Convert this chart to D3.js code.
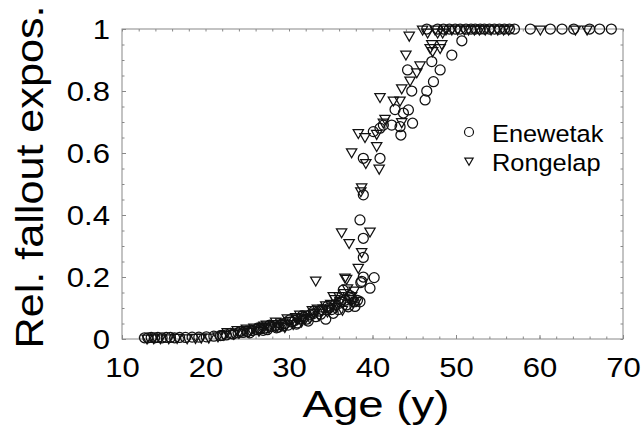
<!DOCTYPE html>
<html>
<head>
<meta charset="utf-8">
<script src="https://cdn.jsdelivr.net/npm/d3@7"></script>
<style>
  body { margin: 0; background: #fff; }
  text { font-family: "Liberation Sans", Arial, Helvetica, sans-serif; fill: #000; }
</style>
</head>
<body>
<div id="chart"></div>
<script>
// Enewetak points [age, relative exposure]
var enewetak = [
  [12.7,0.004],[13.1,0.004],[13.5,0.005],[13.9,0.004],[14.3,0.005],[14.8,0.004],[15.3,0.005],
  [15.8,0.005],[16.3,0.004],[16.9,0.005],[17.6,0.005],[18.4,0.006],[19.2,0.006],[20.1,0.007],
  [21.0,0.009],[21.8,0.011],[22.0,0.012],[22.5,0.013],[23.0,0.018],[23.3,0.016],[23.9,0.02],
  [24.2,0.025],[24.5,0.021],[25.0,0.024],[25.3,0.02],[25.6,0.027],[26.1,0.03],[26.3,0.036],
  [26.6,0.033],[26.9,0.028],[27.0,0.035],[27.4,0.03],[27.7,0.045],[27.9,0.04],[28.3,0.042],
  [28.5,0.036],[28.7,0.038],[29.1,0.047],[29.3,0.042],[29.5,0.05],[29.9,0.045],[30.1,0.062],
  [30.3,0.055],[30.7,0.06],[30.9,0.048],[31.0,0.052],[31.4,0.065],[31.6,0.075],[31.8,0.07],
  [32.1,0.064],[32.3,0.058],[32.5,0.078],[32.9,0.082],[33.0,0.09],[33.2,0.072],[33.6,0.09],
  [33.8,0.08],[34.0,0.095],[34.4,0.064],[34.6,0.105],[34.8,0.1],[35.1,0.095],[35.3,0.083],
  [35.5,0.11],[35.9,0.095],[36.0,0.115],[36.2,0.12],[36.5,0.158],[36.7,0.125],[36.9,0.11],
  [37.1,0.104],[37.3,0.14],[37.5,0.13],[37.8,0.12],[37.9,0.105],[38.2,0.125],[38.5,0.12],
  [38.6,0.182],[38.7,0.186],[38.9,0.2],[39.7,0.164],[40.2,0.198],[38.9,0.263],[38.9,0.325],
  [38.5,0.384],[38.9,0.465],[38.9,0.583],[40.9,0.583],[40.1,0.669],[40.9,0.68],[41.3,0.69],
  [42.3,0.69],[43.3,0.685],[42.7,0.74],[43.4,0.658],[43.7,0.729],[44.3,0.739],[44.8,0.696],
  [44.2,0.868],[44.7,0.8],[46.3,0.771],[46.5,0.8],[47.3,0.83],[47.1,0.895],[48.1,0.868],
  [49.5,0.916],[50.7,0.962],
  [46.5,1],[47.8,1],[48.5,1],[49.2,1],[49.9,1],[50.5,1],[51.2,1],[51.8,1],[52.3,1],[52.9,1],
  [53.4,1],[54.0,1],[54.6,1],[55.2,1],[55.8,1],[56.4,1],[57.0,1],[58.9,1],[61.3,1],[62.7,1],
  [64.1,1],[66.0,1],[67.2,1],[68.6,1]
];

// Rongelap points [age, relative exposure]
var rongelap = [
  [13.0,0.003],[13.8,0.004],[14.6,0.004],[15.6,0.004],[16.6,0.005],[17.8,0.004],[18.8,0.005],
  [19.5,0.006],[20.4,0.006],[21.5,0.01],[22.2,0.015],[22.6,0.024],[23.4,0.018],[23.8,0.03],
  [24.0,0.022],[24.6,0.03],[24.9,0.035],[25.2,0.025],[25.5,0.032],[25.8,0.038],[26.4,0.028],
  [26.8,0.04],[27.0,0.045],[27.3,0.048],[27.6,0.038],[28.1,0.05],[28.4,0.058],[28.6,0.044],
  [29.0,0.055],[29.2,0.05],[29.5,0.04],[29.8,0.068],[30.0,0.06],[30.5,0.05],[30.8,0.072],
  [31.0,0.068],[31.3,0.08],[31.5,0.058],[31.9,0.066],[32.0,0.08],[32.5,0.07],[32.8,0.095],
  [33.0,0.085],[33.2,0.19],[33.4,0.1],[33.6,0.078],[34.1,0.1],[34.4,0.11],[34.6,0.09],
  [34.9,0.098],[35.0,0.115],[35.3,0.14],[35.5,0.13],[35.7,0.105],[36.0,0.14],[36.1,0.125],
  [36.4,0.096],[36.6,0.15],[36.7,0.2],[36.9,0.196],[37.0,0.165],[37.2,0.13],[37.5,0.14],
  [37.7,0.12],[37.8,0.158],[38.1,0.125],[38.3,0.231],[38.7,0.282],[36.3,0.346],[37.2,0.311],
  [39.7,0.348],[38.7,0.491],[38.6,0.478],[37.5,0.604],[39.2,0.569],[40.8,0.551],[40.5,0.624],
  [38.3,0.666],[39.1,0.653],[40.5,0.663],[41.3,0.7],[41.5,0.712],[43.5,0.701],[42.5,0.771],
  [43.3,0.771],[40.9,0.782],[43.5,0.81],[44.5,0.835],[45.3,0.862],[45.7,0.884],[44.0,0.919],
  [44.4,0.98],[46.9,0.94],[47.2,0.93],[48.1,0.94],[47.1,0.953],[48.3,0.953],
  [46.0,1],[46.6,0.99],[47.5,1],[47.8,0.99],[48.4,0.99],[48.8,1],[49.5,1],[50.2,1],[51.0,1],
  [51.5,1],[52.2,1],[52.8,1],[53.5,1],[54.2,1],[55.0,1],[55.7,1],[56.3,1],[60.1,1],[64.3,1],
  [65.7,1]
];

var xTicks = [10, 20, 30, 40, 50, 60, 70];
var yTicks = [0, 0.2, 0.4, 0.6, 0.8, 1];
var seriesNames = ["Enewetak", "Rongelap"];

function init() {
    var w = 644, h = 434;
    var margin = {top: 29, right: 21, bottom: 95, left: 122};
    var iw = w - margin.left - margin.right;
    var ih = h - margin.top - margin.bottom;
    var sx = 1.15; // labels in the figure are a bit wide

    var svg = d3.select("#chart").append("svg")
        .attr("width", w).attr("height", h);

    var g = svg.append("g")
        .attr("transform", "translate(" + margin.left + "," + margin.top + ")");

    var x = d3.scaleLinear().domain([10, 70]).range([0, iw]);
    var y = d3.scaleLinear().domain([0, 1]).range([ih, 0]);

    // minor ticks on all four sides, pointing inward
    var minorX = d3.range(10, 71, 2), minorY = d3.range(0, 1.0001, 0.05);
    function ticks(axis, tr) {
        var a = g.append("g").attr("transform", tr).call(axis);
        a.select(".domain").remove();
        a.selectAll("line").attr("stroke", "#888");
        return a;
    }
    ticks(d3.axisBottom(x).tickValues(minorX).tickSize(-2.5).tickFormat(""), "translate(0," + ih + ")");
    ticks(d3.axisTop(x).tickValues(minorX).tickSize(-2.5).tickFormat(""), "translate(0,0)");
    ticks(d3.axisLeft(y).tickValues(minorY).tickSize(-2.5).tickFormat(""), "translate(0,0)");
    ticks(d3.axisRight(y).tickValues(minorY).tickSize(-2.5).tickFormat(""), "translate(" + iw + ",0)");

    // major ticks with labels
    var xa = ticks(d3.axisBottom(x).tickValues(xTicks).tickSize(-4).tickFormat(d3.format("d")), "translate(0," + ih + ")");
    xa.selectAll("text")
        .attr("y", 38).attr("dy", null)
        .attr("transform", "scale(" + sx + ",1)")
        .style("font-size", "27px");
    var ya = ticks(d3.axisLeft(y).tickValues(yTicks).tickSize(-4).tickFormat(function(d) { return d3.format("")(d); }), "translate(0,0)");
    ya.selectAll("text")
        .attr("x", -12 / sx).attr("dy", "0.36em")
        .attr("transform", "scale(" + sx + ",1)")
        .style("font-size", "27px");
    g.selectAll(".tick text").attr("fill", "#000").attr("font-family", null);

    // frame
    g.append("rect")
        .attr("width", iw).attr("height", ih)
        .attr("fill", "none").attr("stroke", "#888").attr("stroke-width", 1);

    var tri = d3.symbol().type(d3.symbolTriangle).size(46);

    // data points
    g.selectAll("circle.ene").data(enewetak).enter().append("circle")
        .attr("class", "ene")
        .attr("cx", function(d) { return x(d[0]); })
        .attr("cy", function(d) { return y(d[1]); })
        .attr("r", 5)
        .attr("fill", "none").attr("stroke", "#111").attr("stroke-width", 1.25);

    g.selectAll("path.ron").data(rongelap).enter().append("path")
        .attr("class", "ron")
        .attr("d", tri)
        .attr("transform", function(d) { return "translate(" + x(d[0]) + "," + y(d[1]) + ") rotate(180)"; })
        .attr("fill", "none").attr("stroke", "#111").attr("stroke-width", 1.25);

    // legend
    var lg = svg.append("g");
    var items = lg.selectAll("g").data(seriesNames).enter().append("g")
        .attr("transform", function(d, i) { return "translate(469," + (132 + i * 28.5) + ")"; });
    items.filter(function(d, i) { return i === 0; }).append("circle")
        .attr("r", 4.5).attr("fill", "none").attr("stroke", "#111").attr("stroke-width", 1.2);
    items.filter(function(d, i) { return i === 1; }).append("path")
        .attr("d", d3.symbol().type(d3.symbolTriangle).size(30))
        .attr("transform", "rotate(180)")
        .attr("fill", "none").attr("stroke", "#111").attr("stroke-width", 1.2);
    items.append("text")
        .attr("x", 23 / 1.08).attr("y", 5)
        .attr("dy", "0.22em")
        .attr("transform", "scale(1.08,1)")
        .style("font-size", "23.5px")
        .text(function(d) { return d; });

    // axis titles
    svg.append("text")
        .attr("x", 376).attr("y", 417)
        .attr("text-anchor", "middle")
        .attr("textLength", 147).attr("lengthAdjust", "spacingAndGlyphs")
        .style("font-size", "36px")
        .text("Age (y)");

    svg.append("text")
        .attr("transform", "translate(43,177) rotate(-90)")
        .attr("text-anchor", "middle")
        .attr("textLength", 343).attr("lengthAdjust", "spacingAndGlyphs")
        .style("font-size", "38px")
        .text("Rel. fallout expos.");
}

window.onload = init;
</script>
</body>
</html>
